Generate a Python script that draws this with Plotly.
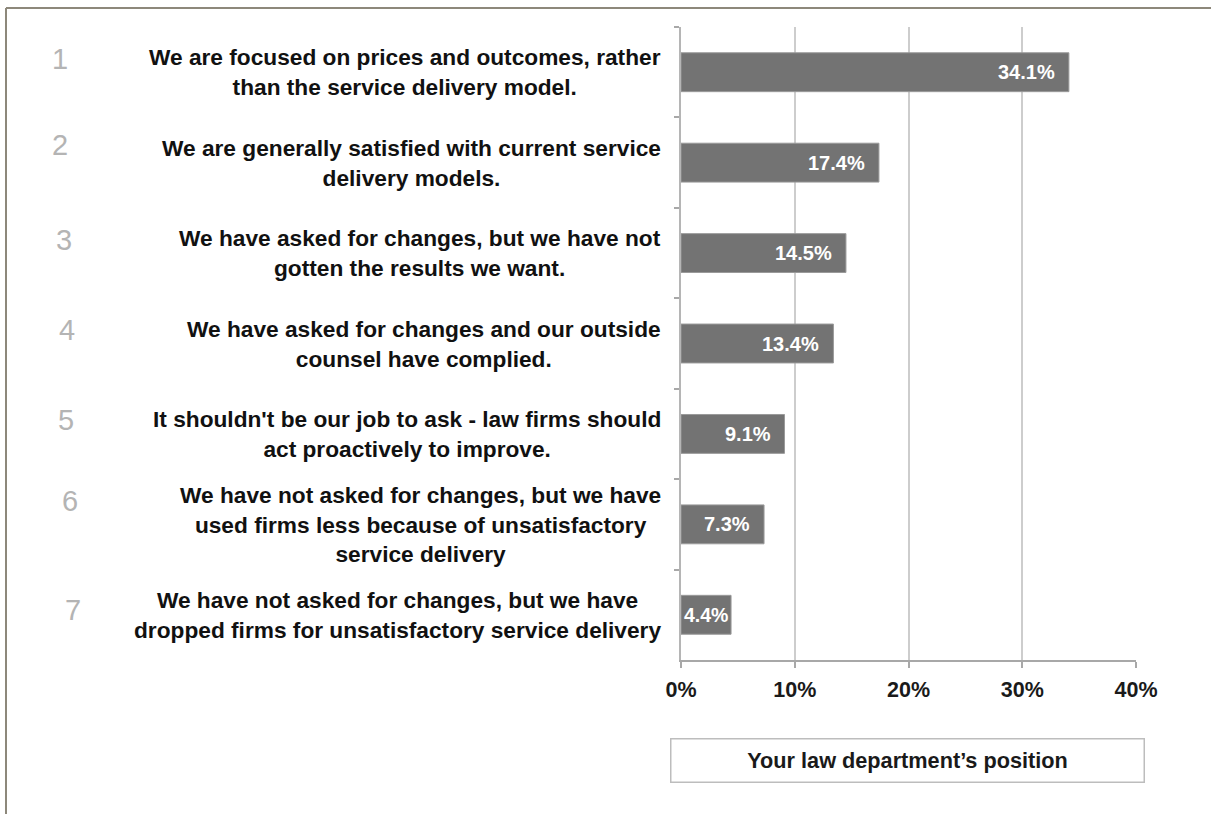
import plotly.graph_objects as go

# Survey responses: share of law departments choosing each position
statements = [
    "We are focused on prices and outcomes, rather<br>than the service delivery model.",
    "We are generally satisfied with current service<br>delivery models.",
    "We have asked for changes, but we have not<br>gotten the results we want.",
    "We have asked for changes and our outside<br>counsel have complied.",
    "It shouldn't be our job to ask - law firms should<br>act proactively to improve.",
    "We have not asked for changes, but we have<br>used firms less because of unsatisfactory<br>service delivery",
    "We have not asked for changes, but we have<br>dropped firms for unsatisfactory service delivery",
]
ranks = ["1", "2", "3", "4", "5", "6", "7"]
shares = [34.1, 17.4, 14.5, 13.4, 9.1, 7.3, 4.4]
x_ticks = [0, 10, 20, 30, 40]
x_tick_labels = ["0%", "10%", "20%", "30%", "40%"]
series_name = "Your law department\u2019s position"

W, H = 1211, 814
M_L, M_R, M_T, M_B = 681, 75, 27, 154
PW, PH = W - M_L - M_R, H - M_T - M_B


def px_x(p):
    return (p - M_L) / PW


def px_y(p):
    return 1 - (p - M_T) / PH


FONT = "Liberation Sans, Arial, Helvetica, sans-serif"
BAR = "#737373"
GRID = "#cdcdcd"
FRAME = "#8d887b"

cats = statements
fig = go.Figure(
    go.Bar(
        x=shares,
        y=cats,
        orientation="h",
        width=0.43,
        marker=dict(color=BAR, line=dict(color="#9a9a9a", width=1)),
        hoverinfo="skip",
        showlegend=False,
    )
)

annotations = []
# statement text, centered lines, right edge just left of the axis
for c in cats:
    annotations.append(dict(
        x=0, y=c, xref="x", yref="y", text="<b>%s</b>" % c,
        xanchor="right", yanchor="middle", align="center", xshift=-18,
        showarrow=False, font=dict(family=FONT, size=22.7, color="#111111"),
    ))

# light rank numbers on the far left (hand-placed nudges)
rank_x = [60, 60, 64, 67, 66, 70, 73]
rank_shift = [13, 18, 13, 14, 14, 23, 5]
for c, r, rx, ry in zip(cats, ranks, rank_x, rank_shift):
    annotations.append(dict(
        x=px_x(rx), y=c, xref="paper", yref="y", text=r,
        xanchor="center", yanchor="middle", yshift=ry,
        showarrow=False, font=dict(family=FONT, size=29, color="#b4b4b4"),
    ))

# value labels inside the bars
for c, v in zip(cats, shares):
    txt = "<b>%.1f%%</b>" % v
    if v < 5:
        annotations.append(dict(
            x=v / 2, y=c, xref="x", yref="y", text=txt, xanchor="center",
            yanchor="middle", showarrow=False,
            font=dict(family=FONT, size=19.5, color="white"),
        ))
    else:
        annotations.append(dict(
            x=v, y=c, xref="x", yref="y", text=txt, xanchor="right",
            yanchor="middle", xshift=-12, showarrow=False,
            font=dict(family=FONT, size=20, color="white"),
        ))

# boxed series key below the axis
annotations.append(dict(
    x=px_x(907), y=px_y(760), xref="paper", yref="paper",
    text="<b>%s</b>" % series_name, showarrow=False,
    xanchor="center", yanchor="middle", align="center", valign="middle",
    width=472, height=42, bordercolor="#bdbdbd", borderwidth=1.5, borderpad=0,
    font=dict(family=FONT, size=21.7, color="#1a1a1a"),
))

shapes = [
    # outer frame: top and left edges
    dict(type="line", xref="paper", yref="paper", x0=px_x(6), x1=px_x(1215),
         y0=px_y(8), y1=px_y(8), line=dict(color=FRAME, width=2)),
    dict(type="line", xref="paper", yref="paper", x0=px_x(6), x1=px_x(6),
         y0=px_y(8), y1=px_y(820), line=dict(color=FRAME, width=2)),
]

fig.update_layout(
    width=W, height=H,
    margin=dict(l=M_L, r=M_R, t=M_T, b=M_B, autoexpand=False),
    paper_bgcolor="white", plot_bgcolor="white",
    annotations=annotations,
    shapes=shapes,
    xaxis=dict(
        range=[0, 40], tickvals=x_ticks, ticktext=x_tick_labels,
        showgrid=True, gridcolor=GRID, gridwidth=2,
        showline=True, linecolor="#a8a8a8", linewidth=2,
        ticks="outside", ticklen=6, tickcolor="#a8a8a8", tickwidth=2,
        ticklabelstandoff=3,
        tickfont=dict(family=FONT, size=21.5, color="#1a1a1a", weight="bold"),
        zeroline=False, fixedrange=True,
    ),
    yaxis=dict(
        type="category",
        categoryorder="array", categoryarray=cats, autorange="reversed",
        showticklabels=False, ticks="outside", tickson="boundaries",
        ticklen=5, tickcolor="#a8a8a8", tickwidth=1.5,
        showline=True, linecolor="#b5b5b5", linewidth=2,
        showgrid=False, zeroline=False, fixedrange=True,
    ),
)

fig.write_html("out.html")
